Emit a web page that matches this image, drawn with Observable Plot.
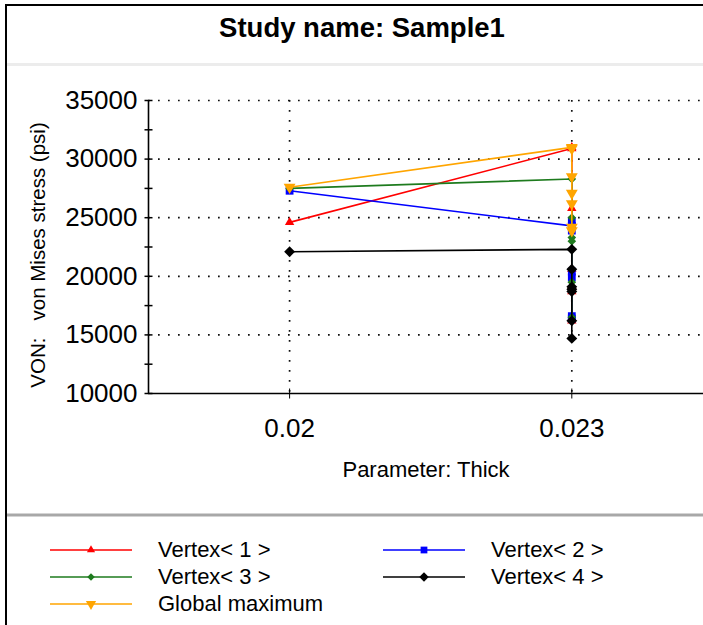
<!DOCTYPE html>
<html><head><meta charset="utf-8">
<script src="https://cdn.jsdelivr.net/npm/d3@7"></script>
<script src="https://cdn.jsdelivr.net/npm/@observablehq/plot@0.6"></script>
<style>
body{margin:0;background:#fff;font-family:Arial,"Liberation Sans",sans-serif;}
#wrap{position:relative;width:703px;height:625px;overflow:hidden;background:#fff;}
#title{position:absolute;left:5px;width:714px;top:13px;line-height:30px;text-align:center;font-weight:bold;font-size:27.5px;color:#000;}
#chart{position:absolute;left:0;top:0;}
#legend{position:absolute;left:50px;top:536px;display:grid;grid-template-columns:333px 300px;grid-auto-rows:27px;}
.item{display:flex;align-items:center;font-size:22px;line-height:27px;color:#000;white-space:pre;}
.item svg{margin-right:26px;}
.bl{position:absolute;background:#000;}
</style></head><body>
<div id="wrap">
  <div id="title">Study name: Sample1</div>
  <div id="chart"></div>
  <div id="legend"></div>
  <div class="bl" style="left:5px;top:4px;width:2px;height:621px"></div>
  <div class="bl" style="left:5px;top:4px;width:698px;height:2px"></div>
  <div style="position:absolute;left:7px;top:63px;width:696px;height:3px;background:#ececec"></div>
  <div style="position:absolute;left:7px;top:513px;width:696px;height:4px;background:#a8a8a8;border-top:1px solid #d4d4d4;border-bottom:1px solid #d4d4d4;box-sizing:border-box"></div>
</div>
<script>
// ---- data ----
const thick   = [0.02, 0.023, 0.023, 0.023, 0.023, 0.023, 0.023, 0.023];
const vertex1 = [24600, 30900, 31000, 25800, 20600, 19200, 18700, 16200];
const vertex2 = [27300, 24300, 24700, 23900, 20400, 19900, 16600, 16400];
const vertex3 = [27500, 28300, 25000, 24100, 23300, 23000, 19500, 16500];
const vertex4 = [22100, 22300, 20600, 19100, 18900, 18700, 16200, 14700];
const globalMax = [27600, 31000, 30900, 28500, 27100, 26200, 24200, 23900];

const seriesNames  = ["Vertex< 1 >", "Vertex< 2 >", "Vertex< 3 >", "Vertex< 4 >", "Global maximum"];
const seriesValues = [vertex1, vertex2, vertex3, vertex4, globalMax];
const seriesColors = ["#ff0000", "#0000ff", "#1e7b1e", "#000000", "#ffa500"];

const xTicks = [0.02, 0.023];
const xTickLabels = ["0.02", "0.023"];
const yTicks = [10000, 15000, 20000, 25000, 30000, 35000];
const yTickLabels = ["10000", "15000", "20000", "25000", "30000", "35000"];
const yMinorTicks = [12500, 17500, 22500, 27500, 32500];
const xDomain = [0.0185, 0.0244];
const yDomain = [10000, 35000];
const xLabel = "Parameter: Thick";
const yLabel = "VON:\u00a0\u00a0\u00a0von Mises stress (psi)";

// ---- symbols ----
const triangleDown = {draw(context, size) {
  const s3 = Math.sqrt(3);
  const y = -Math.sqrt(size / (s3 * 3));
  context.moveTo(0, -y * 2);
  context.lineTo(-s3 * y, y);
  context.lineTo(s3 * y, y);
  context.closePath();
}};
const hTick = {draw(c) { c.moveTo(-4, 0); c.lineTo(4, 0); }};
const vTick = {draw(c) { c.moveTo(0, -5); c.lineTo(0, 5); }};
const seriesSymbols = [d3.symbolTriangle, d3.symbolSquare, d3.symbolDiamond2, d3.symbolDiamond2, triangleDown];
const seriesR = [3.5, 4.4, 3.9, 4.9, 4.4];

const tables = seriesValues.map((vals, i) => thick.map((t, j) => ({x: t, y: vals[j], s: seriesNames[i]})));

const dotted = {stroke: "#111", strokeWidth: 1.7, strokeDasharray: "1.7 8.3"};

const marks = [
  Plot.ruleY(yTicks.slice(1), dotted),
  Plot.ruleX(xTicks, dotted),
  Plot.ruleY([yDomain[0]], {stroke: "#000", strokeWidth: 1.6}),
  Plot.ruleX([xDomain[0]], {stroke: "#000", strokeWidth: 1.6}),
  Plot.dot(yTicks.concat(yMinorTicks), {y: d => d, frameAnchor: "left", symbol: hTick, stroke: "#000", fill: "none", strokeWidth: 1.5}),
  Plot.dot(xTicks, {x: d => d, frameAnchor: "bottom", symbol: vTick, stroke: "#000", fill: "none", strokeWidth: 1}),
  Plot.axisY(yTicks, {tickSize: 0, tickPadding: 11, label: null, fontSize: 26, fill: "#000",
    tickFormat: d => yTickLabels[yTicks.indexOf(d)]}),
  Plot.axisX(xTicks, {tickSize: 0, tickPadding: 25, label: null, fontSize: 26, fill: "#000",
    tickFormat: d => xTickLabels[xTicks.indexOf(d)]}),
  Plot.text([xLabel], {text: d => d, frameAnchor: "bottom", textAnchor: "middle", lineAnchor: "middle", dy: 76, fontSize: 22, fill: "#000"}),
  Plot.text([yLabel], {text: d => d, frameAnchor: "left", textAnchor: "middle", lineAnchor: "middle", rotate: -90, dx: -110, dy: 8, fontSize: 20.5, fill: "#000"})
];
tables.forEach((tb, i) => {
  marks.push(Plot.line(tb, {x: "x", y: "y", stroke: seriesColors[i], strokeWidth: 1.6}));
  marks.push(Plot.dot(tb, {x: "x", y: "y", symbol: seriesSymbols[i], r: seriesR[i], fill: seriesColors[i], stroke: "none"}));
});

const chart = Plot.plot({
  width: 703,
  height: 513,
  marginTop: 100,
  marginBottom: 120,
  marginLeft: 148,
  marginRight: 0,
  style: {fontFamily: "Arial, 'Liberation Sans', sans-serif", fontSize: "26px", background: "transparent", color: "#000", overflow: "visible"},
  x: {domain: xDomain, axis: null},
  y: {domain: yDomain, axis: null},
  marks
});
document.getElementById("chart").appendChild(chart);

// ---- legend ----
const legend = d3.select("#legend");
seriesNames.forEach((name, i) => {
  const item = legend.append("div").attr("class", "item");
  const svg = item.append("svg").attr("width", 82).attr("height", 14);
  svg.append("line").attr("x1", 0).attr("x2", 82).attr("y1", 7).attr("y2", 7)
    .attr("stroke", seriesColors[i]).attr("stroke-width", 1.6);
  svg.append("path").attr("transform", "translate(41,7)")
    .attr("d", d3.symbol(seriesSymbols[i], Math.PI * seriesR[i] * seriesR[i] * 0.75)())
    .attr("fill", seriesColors[i]);
  item.append("span").text(name);
});
</script>
</body></html>
